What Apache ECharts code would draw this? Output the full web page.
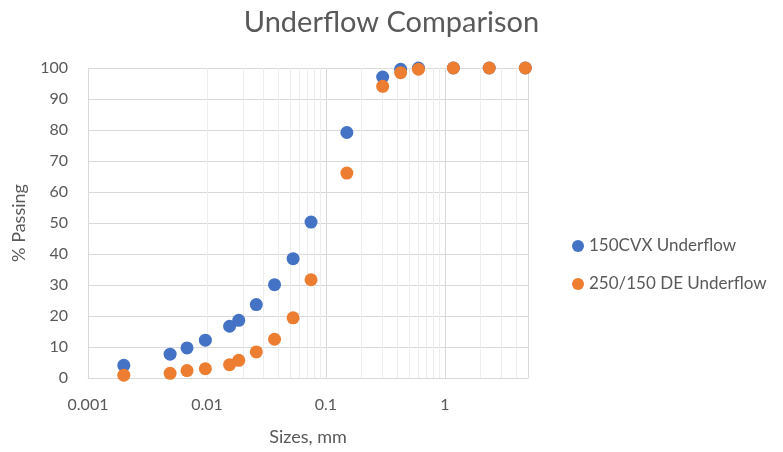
<!DOCTYPE html>
<html>
<head>
<meta charset="utf-8">
<script src="https://cdn.jsdelivr.net/npm/echarts@6/dist/echarts.min.js"></script>
<style>html,body{margin:0;padding:0;background:#fff;}#c{width:783px;height:452px;}</style>
</head>
<body>
<div id="c"></div>
<script>
const sizes150 = [0.002, 0.0049, 0.0068, 0.0097, 0.0155, 0.0185, 0.026, 0.037, 0.053, 0.075, 0.15, 0.3, 0.425, 0.6, 1.18, 2.36, 4.75];
const passing150 = [4.1, 7.7, 9.7, 12.2, 16.7, 18.6, 23.7, 30.1, 38.5, 50.3, 79.2, 97.1, 99.6, 100, 100, 100, 100];
const sizes250 = [0.002, 0.0049, 0.0068, 0.0097, 0.0155, 0.0185, 0.026, 0.037, 0.053, 0.075, 0.15, 0.3, 0.425, 0.6, 1.18, 2.36, 4.75];
const passing250 = [0.9, 1.5, 2.4, 3.0, 4.3, 5.7, 8.4, 12.5, 19.4, 31.7, 66.1, 94.1, 98.5, 99.6, 100, 100, 100];
const seriesNames = ['150CVX Underflow', '250/150 DE Underflow'];
const xTickValues = [0.001, 0.01, 0.1, 1];
const xTickLabels = ['0.001', '0.01', '0.1', '1'];
const xMin = 0.001, xMax = 5;

const FONT = 'Lato';
const TXT = '#595959';

// minor log gridlines (2..9 per decade)
const minorLines = [];
xTickValues.forEach(d => {
  for (let m = 2; m <= 9; m++) {
    const v = d * m;
    if (v < xMax) minorLines.push({ xAxis: v });
  }
});

const chart = echarts.init(document.getElementById('c'), null, { renderer: 'canvas' });
chart.setOption({
  animation: false,
  backgroundColor: '#fff',
  title: {
    text: 'Underflow Comparison',
    left: 'center',
    top: 3,
    textStyle: { fontFamily: FONT, fontSize: 29, fontWeight: 'normal', color: TXT }
  },
  legend: {
    data: seriesNames,
    orient: 'vertical',
    left: 567,
    top: 231,
    icon: 'circle',
    itemWidth: 12,
    itemHeight: 12,
    itemGap: 18,
    textStyle: { fontFamily: FONT, fontSize: 17, color: TXT, lineHeight: 20 }
  },
  grid: { left: 88, right: 255, top: 68, bottom: 74, containLabel: false },
  xAxis: {
    type: 'log',
    logBase: 10,
    min: xMin,
    max: xMax,
    name: 'Sizes, mm',
    nameLocation: 'middle',
    nameGap: 50,
    nameTextStyle: { fontFamily: FONT, fontSize: 18, color: TXT },
    axisLine: { show: true, lineStyle: { color: '#d9d9d9', width: 1 } },
    axisTick: { show: false },
    axisLabel: {
      fontFamily: FONT, fontSize: 16, color: TXT, margin: 19,
      formatter: function (v) {
        for (let i = 0; i < xTickValues.length; i++) {
          if (Math.abs(Math.log10(v) - Math.log10(xTickValues[i])) < 1e-6) return xTickLabels[i];
        }
        return '';
      }
    },
    splitLine: { show: true, lineStyle: { color: '#d9d9d9', width: 1 } }
  },
  yAxis: {
    type: 'value',
    min: 0,
    max: 100,
    interval: 10,
    name: '% Passing',
    nameLocation: 'middle',
    nameGap: 60,
    nameTextStyle: { fontFamily: FONT, fontSize: 18, color: TXT },
    axisLine: { show: false },
    axisTick: { show: false },
    axisLabel: { fontFamily: FONT, fontSize: 16, color: TXT, margin: 20 },
    splitLine: { show: true, lineStyle: { color: '#d9d9d9', width: 1 } }
  },
  series: [
    {
      name: '_minor',
      type: 'line',
      data: [],
      z: 1,
      silent: true,
      markLine: {
        z: 1,
        silent: true,
        symbol: 'none',
        label: { show: false },
        lineStyle: { color: '#ededed', width: 1, type: 'solid' },
        emphasis: { disabled: true },
        data: minorLines
      }
    },
    {
      name: seriesNames[0],
      type: 'scatter',
      z: 10,
      symbol: 'circle',
      symbolSize: 13,
      itemStyle: { color: '#4472C4', opacity: 1 },
      data: sizes150.map((s, i) => [s, passing150[i]])
    },
    {
      name: seriesNames[1],
      type: 'scatter',
      z: 11,
      symbol: 'circle',
      symbolSize: 13,
      itemStyle: { color: '#ED7D31', opacity: 1 },
      data: sizes250.map((s, i) => [s, passing250[i]])
    }
  ]
});
</script>
</body>
</html>
